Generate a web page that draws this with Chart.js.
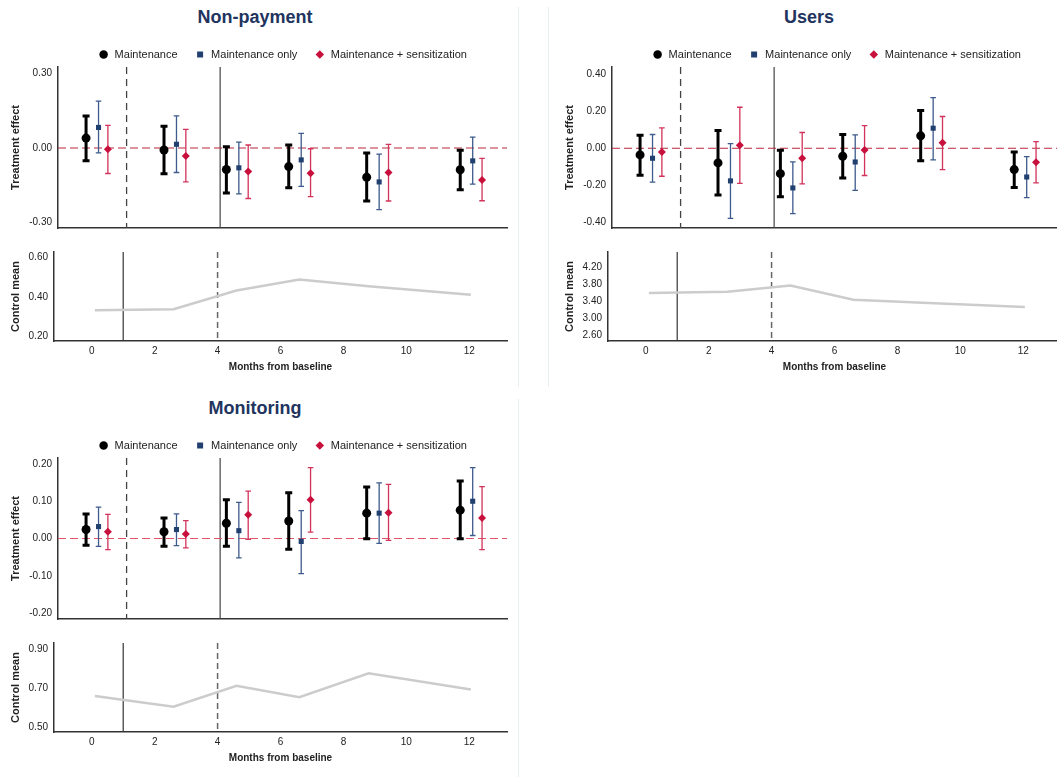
<!DOCTYPE html>
<html>
<head>
<meta charset="utf-8">
<title>Treatment effects over time</title>
<script src="https://cdn.jsdelivr.net/npm/chart.js@4.4.1/dist/chart.umd.min.js"></script>
<style>
    html, body { margin: 0; padding: 0; background: #fff; width: 1057px; height: 777px; overflow: hidden; }
    body { position: relative; font-family: 'Liberation Sans', Arial, Helvetica, sans-serif; }
    .panel-title { position: absolute; width: 510px; text-align: center; font-weight: bold; font-size: 18px; line-height: 20px; color: #22345e; }
    .sep { position: absolute; width: 1px; background: #e9eeee; }
    canvas { position: absolute; }
</style>
</head>
<body>
<div class="sep" style="left:518px; top:7px; height:380px"></div>
<div class="sep" style="left:548px; top:7px; height:380px"></div>
<div class="sep" style="left:518px; top:399px; height:378px"></div>

<div class="panel-title" style="left:0; top:7px">Non-payment</div>
<div class="panel-title" style="left:554px; top:7px">Users</div>
<div class="panel-title" style="left:0; top:398px">Monitoring</div>

<canvas id="npEffect" width="518" height="211" style="left:0; top:29px"></canvas>
<canvas id="npControl" width="518" height="137" style="left:0; top:240px"></canvas>
<canvas id="usEffect" width="518" height="211" style="left:554px; top:29px"></canvas>
<canvas id="usControl" width="518" height="137" style="left:554px; top:240px"></canvas>
<canvas id="moEffect" width="518" height="211" style="left:0; top:420px"></canvas>
<canvas id="moControl" width="518" height="137" style="left:0; top:631px"></canvas>

<script>
// ---------------- Data ----------------
const seriesNames = ['Maintenance', 'Maintenance only', 'Maintenance + sensitization'];

// survey months, each arm is nudged sideways around its wave
const monthsMaint = [-0.3, 2.2, 4.2, 6.2, 8.7, 11.7];
const monthsOnly = [0.1, 2.6, 4.6, 6.6, 9.1, 12.1];
const monthsSens = [0.4, 2.9, 4.9, 6.9, 9.4, 12.4];
const monthsControl = [0.1, 2.6, 4.6, 6.6, 8.8, 12.05];
const monthTicks = [0, 2, 4, 6, 8, 10, 12];

// Non-payment
const npMaint = [0.040, -0.008, -0.087, -0.075, -0.118, -0.088];
const npMaintLo = [-0.051, -0.104, -0.182, -0.161, -0.214, -0.169];
const npMaintHi = [0.129, 0.088, 0.005, 0.012, -0.020, -0.009];
const npOnly = [0.083, 0.015, -0.080, -0.048, -0.137, -0.052];
const npOnlyLo = [-0.020, -0.099, -0.185, -0.155, -0.249, -0.146];
const npOnlyHi = [0.189, 0.130, 0.024, 0.059, -0.025, 0.044];
const npSens = [-0.005, -0.032, -0.095, -0.102, -0.099, -0.129];
const npSensLo = [-0.103, -0.137, -0.204, -0.196, -0.214, -0.213];
const npSensHi = [0.091, 0.075, 0.012, -0.003, 0.015, -0.042];
const npControl = [0.334, 0.339, 0.434, 0.489, 0.455, 0.412];
const npEffectTicks = [-0.3, 0, 0.3];
const npControlTicks = [0.2, 0.4, 0.6];

// Users
const usMaint = [-0.036, -0.079, -0.137, -0.043, 0.067, -0.115];
const usMaintLo = [-0.146, -0.252, -0.261, -0.160, -0.068, -0.212];
const usMaintHi = [0.070, 0.095, -0.011, 0.074, 0.203, -0.020];
const usOnly = [-0.054, -0.176, -0.214, -0.074, 0.108, -0.155];
const usOnlyLo = [-0.183, -0.378, -0.353, -0.227, -0.063, -0.266];
const usOnlyHi = [0.074, 0.025, -0.074, 0.072, 0.273, -0.045];
const usSens = [-0.020, 0.016, -0.054, -0.009, 0.029, -0.076];
const usSensLo = [-0.151, -0.189, -0.192, -0.147, -0.115, -0.187];
const usSensHi = [0.110, 0.221, 0.085, 0.122, 0.171, 0.036];
const usControl = [3.596, 3.627, 3.769, 3.440, 3.370, 3.267];
const usEffectTicks = [-0.4, -0.2, 0, 0.2, 0.4];
const usControlTicks = [2.6, 3.0, 3.4, 3.8, 4.2];

// Monitoring
const moMaint = [0.024, 0.018, 0.041, 0.047, 0.068, 0.076];
const moMaintLo = [-0.018, -0.021, -0.021, -0.029, -0.001, -0.001];
const moMaintHi = [0.066, 0.055, 0.104, 0.123, 0.138, 0.154];
const moOnly = [0.032, 0.024, 0.021, -0.008, 0.068, 0.100];
const moOnlyLo = [-0.021, -0.019, -0.052, -0.094, -0.013, 0.008];
const moOnlyHi = [0.084, 0.066, 0.097, 0.075, 0.149, 0.190];
const moSens = [0.018, 0.012, 0.064, 0.104, 0.069, 0.055];
const moSensLo = [-0.030, -0.025, -0.002, 0.017, -0.005, -0.030];
const moSensHi = [0.065, 0.048, 0.127, 0.190, 0.145, 0.139];
const moControl = [0.662, 0.607, 0.714, 0.655, 0.777, 0.695];
const moEffectTicks = [-0.2, -0.1, 0, 0.1, 0.2];
const moControlTicks = [0.5, 0.7, 0.9];

// ---------------- Styling ----------------
const FONT = "'Liberation Sans', Arial, Helvetica, sans-serif";
const AXIS_COLOR = '#333';
const TEXT_COLOR = '#222';
const MONTH_MIN = -1.2;
const MONTH_MAX = 13.2;

Chart.defaults.font.family = FONT;
Chart.defaults.color = TEXT_COLOR;
Chart.defaults.animation = false;

// ---------------- Plugins ----------------
// vertical phase markers and the zero reference line
const refLinesPlugin = {
    id: 'refLines',
    beforeDatasetsDraw(chart, args, opts) {
        const { ctx, chartArea, scales } = chart;
        ctx.save();
        (opts.vertical || []).forEach(line => {
            const px = scales.x.getPixelForValue(line.month);
            ctx.beginPath();
            ctx.setLineDash(line.dash || []);
            ctx.strokeStyle = line.color;
            ctx.lineWidth = line.width;
            ctx.moveTo(px, chartArea.top);
            ctx.lineTo(px, chartArea.bottom);
            ctx.stroke();
        });
        if (opts.zero) {
            const py = scales.y.getPixelForValue(0);
            ctx.beginPath();
            ctx.setLineDash([8, 4]);
            ctx.strokeStyle = opts.zero;
            ctx.lineWidth = 1.2;
            ctx.moveTo(chartArea.left, py);
            ctx.lineTo(chartArea.right, py);
            ctx.stroke();
        }
        ctx.restore();
    }
};

// confidence intervals with caps, drawn under the markers
const errorBarPlugin = {
    id: 'errorBars',
    beforeDatasetsDraw(chart) {
        const { ctx, scales } = chart;
        chart.data.datasets.forEach(ds => {
            if (!ds.errLo) return;
            ctx.save();
            ctx.strokeStyle = ds.barColor;
            ctx.lineWidth = ds.barWidth;
            ds.data.forEach((pt, j) => {
                const px = scales.x.getPixelForValue(pt.x);
                const top = scales.y.getPixelForValue(ds.errHi[j]);
                const bot = scales.y.getPixelForValue(ds.errLo[j]);
                ctx.beginPath();
                ctx.moveTo(px, top);
                ctx.lineTo(px, bot);
                ctx.moveTo(px - ds.capHalf, top);
                ctx.lineTo(px + ds.capHalf, top);
                ctx.moveTo(px - ds.capHalf, bot);
                ctx.lineTo(px + ds.capHalf, bot);
                ctx.stroke();
            });
            ctx.restore();
        });
    }
};

// ---------------- Helpers ----------------
const toPoints = (months, values) => months.map((m, i) => ({ x: m, y: values[i] }));
const fixedTicks = list => scale => { scale.ticks = list.map(v => ({ value: v })); };

function yAxis(range, ticks, title, width) {
    return {
        min: range[0],
        max: range[1],
        afterBuildTicks: fixedTicks(ticks),
        afterFit: scale => { scale.width = width; },
        grid: { display: false, drawTicks: false },
        border: { display: true, color: AXIS_COLOR, width: 1.5 },
        ticks: { padding: 6, font: { size: 10 }, color: TEXT_COLOR, callback: v => v.toFixed(2) },
        title: { display: true, text: title, font: { size: 11, weight: 'bold' }, color: TEXT_COLOR, padding: { top: 9, bottom: 0 } }
    };
}

// ---------------- Treatment Effect Chart ----------------
function makeEffectChart(canvasId, arms, range, ticks, zeroColor) {
    const styles = [
        { style: 'circle', radius: 4.5, color: '#000', bar: '#000', width: 3, cap: 3.5 },
        { style: 'rect', radius: 3.6, color: '#22406f', bar: '#3d5b8c', width: 1.3, cap: 2.8 },
        { style: 'rectRot', radius: 4, color: '#c8103c', bar: '#d2335a', width: 1.3, cap: 2.8 }
    ];

    const datasets = arms.map((arm, i) => ({
        label: seriesNames[i],
        data: toPoints(arm.months, arm.values),
        errLo: arm.lo,
        errHi: arm.hi,
        barColor: styles[i].bar,
        barWidth: styles[i].width,
        capHalf: styles[i].cap,
        pointStyle: styles[i].style,
        pointRadius: styles[i].radius,
        pointBorderWidth: 0,
        backgroundColor: styles[i].color,
        borderColor: styles[i].color,
        showLine: false
    }));

    return new Chart(document.getElementById(canvasId), {
        type: 'scatter',
        data: { datasets },
        plugins: [refLinesPlugin, errorBarPlugin],
        options: {
            responsive: false,
            layout: { padding: { left: 0, right: 11, top: 3, bottom: 5 } },
            scales: {
                x: {
                    type: 'linear',
                    min: MONTH_MIN,
                    max: MONTH_MAX,
                    afterFit: scale => { scale.height = 0; },
                    grid: { display: false, drawTicks: false },
                    border: { display: true, color: AXIS_COLOR, width: 1.5 },
                    ticks: { display: false }
                },
                y: yAxis(range, ticks, 'Treatment effect', 58)
            },
            plugins: {
                tooltip: { enabled: false },
                legend: {
                    position: 'top',
                    fullSize: false,
                    maxHeight: 35,
                    labels: {
                        usePointStyle: true,
                        boxHeight: 6,
                        padding: 17,
                        color: TEXT_COLOR,
                        font: { size: 11 }
                    }
                },
                refLines: {
                    vertical: [
                        { month: 1, dash: [7, 5], color: '#444', width: 1.3 },
                        { month: 4, dash: [], color: '#444', width: 1.2 }
                    ],
                    zero: zeroColor
                }
            }
        }
    });
}

// ---------------- Control Mean Chart ----------------
function makeControlChart(canvasId, values, range, ticks) {
    return new Chart(document.getElementById(canvasId), {
        type: 'line',
        data: {
            datasets: [{
                label: 'Control mean',
                data: toPoints(monthsControl, values),
                borderColor: '#cccccc',
                borderWidth: 2.5,
                pointRadius: 0,
                tension: 0,
                fill: false
            }]
        },
        plugins: [refLinesPlugin],
        options: {
            responsive: false,
            layout: { padding: { left: 0, right: 11, top: 4, bottom: 0 } },
            scales: {
                x: {
                    type: 'linear',
                    min: MONTH_MIN,
                    max: MONTH_MAX,
                    afterBuildTicks: fixedTicks(monthTicks),
                    afterFit: scale => { scale.height = 36; },
                    grid: { display: false, drawTicks: false },
                    border: { display: true, color: AXIS_COLOR, width: 1.5 },
                    ticks: { padding: 4, font: { size: 10 }, color: TEXT_COLOR, maxRotation: 0 },
                    title: { display: true, text: 'Months from baseline', font: { size: 10, weight: 'bold' }, color: TEXT_COLOR, padding: { top: 0, bottom: 4 } }
                },
                y: yAxis(range, ticks, 'Control mean', 54)
            },
            plugins: {
                legend: { display: false },
                tooltip: { enabled: false },
                refLines: {
                    vertical: [
                        { month: 1, dash: [], color: '#333', width: 1.2 },
                        { month: 4, dash: [6, 4], color: '#666', width: 1.5 }
                    ]
                }
            }
        }
    });
}

// ---------------- Build Panels ----------------
function buildArms(maint, maintLo, maintHi, only, onlyLo, onlyHi, sens, sensLo, sensHi) {
    return [
        { months: monthsMaint, values: maint, lo: maintLo, hi: maintHi },
        { months: monthsOnly, values: only, lo: onlyLo, hi: onlyHi },
        { months: monthsSens, values: sens, lo: sensLo, hi: sensHi }
    ];
}

makeEffectChart('npEffect',
    buildArms(npMaint, npMaintLo, npMaintHi, npOnly, npOnlyLo, npOnlyHi, npSens, npSensLo, npSensHi),
    [-0.323, 0.327], npEffectTicks, '#b8283c');
makeControlChart('npControl', npControl, [0.178, 0.629], npControlTicks);

makeEffectChart('usEffect',
    buildArms(usMaint, usMaintLo, usMaintHi, usOnly, usOnlyLo, usOnlyHi, usSens, usSensLo, usSensHi),
    [-0.430, 0.438], usEffectTicks, '#b8283c');
makeControlChart('usControl', usControl, [2.475, 4.553], usControlTicks);

makeEffectChart('moEffect',
    buildArms(moMaint, moMaintLo, moMaintHi, moOnly, moOnlyLo, moOnlyHi, moSens, moSensLo, moSensHi),
    [-0.216, 0.216], moEffectTicks, '#e25468');
makeControlChart('moControl', moControl, [0.478, 0.932], moControlTicks);
</script>
</body>
</html>
